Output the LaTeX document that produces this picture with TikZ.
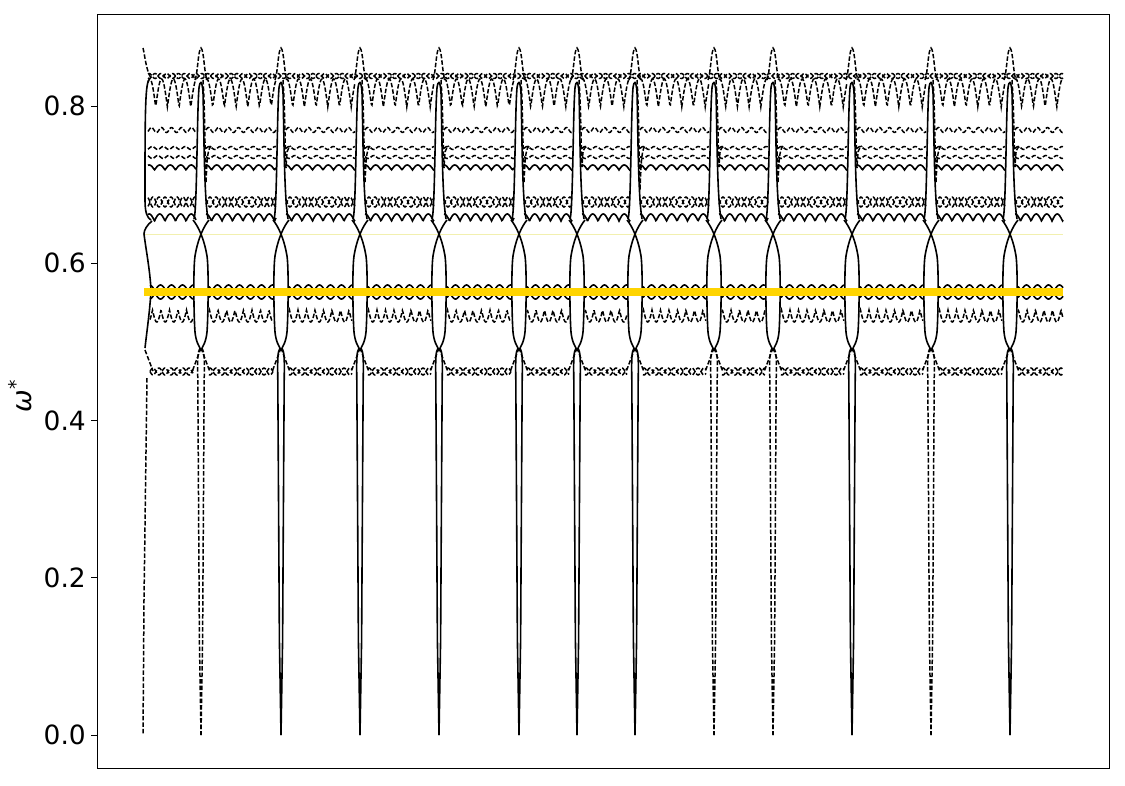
\documentclass[tikz,border=0pt]{standalone}
\usepackage{fontspec}
\setmainfont{DejaVu Sans}
\definecolor{goldy}{RGB}{255,212,0}
\definecolor{paleyel}{RGB}{242,240,175}
\newcommand\myspike[3]{%
  \ifnum#2=1 \tikzset{botline/.style={sl}}\else\tikzset{botline/.style={dl}}\fi
  % dashed peak at the top
  \draw[dl] ({#1-6},80) .. controls ({#1-3},72) and ({#1-3},50) .. (#1,48) .. controls ({#1+3},50) and ({#1+3},72) .. ({#1+6},80);
  % narrow solid loop
  \draw[sl] ({#1-7},219) .. controls ({#1-4},212) and ({#1-4},110) .. ({#1-2},88) .. controls ({#1-1},80) and ({#1+1},80) .. ({#1+2},92) .. controls ({#1+3},130) and ({#1+3},195) .. ({#1+7},219);
  % dashed V going down
  \draw[dl] ({#1+2},80) .. controls ({#1+4},110) and ({#1+4},{#3-20}) .. ({#1+5},#3) .. controls ({#1+6},{#3-20}) and ({#1+6},150) .. ({#1+10},146);
  % crossing and lower solid pair
  \draw[sl] ({#1-8},220) .. controls ({#1-3},226) and ({#1+3},238) .. ({#1+6},256) .. controls ({#1+8},270) and ({#1+7},320) .. ({#1+6},332) .. controls ({#1+5},342) and ({#1+2},346) .. ({#1+1},348);
  \draw[sl] ({#1+8},220) .. controls ({#1+3},226) and ({#1-3},238) .. ({#1-6},256) .. controls ({#1-8},270) and ({#1-7},320) .. ({#1-6},332) .. controls ({#1-5},342) and ({#1-2},346) .. ({#1-1},348);
  % dashed diamond
  \draw[dl] (#1,348) -- ({#1-9},372);
  \draw[dl] (#1,348) -- ({#1+9},372);
  % lower pair down to zero
  \draw[botline] ({#1-1},348) .. controls ({#1-3.5},352) and ({#1-3.5},360) .. ({#1-3.2},380) -- ({#1-1.6},640) -- (#1,735);
  \draw[botline] ({#1+1},348) .. controls ({#1+3.5},352) and ({#1+3.5},360) .. ({#1+3.2},380) -- ({#1+1.6},640) -- (#1,735);
}
\begin{document}
\begin{tikzpicture}[x=1pt,y=-1pt,
  dl/.style={black,line width=1.5pt,dash pattern=on 4.5pt off 2pt},
  sl/.style={black,line width=1.6pt},
  ticklab/.style={font=\fontsize{26.5}{30}\selectfont,anchor=east,inner sep=0pt},
  tickmark/.style={black,line width=1pt}]
\useasboundingbox (0,0) rectangle (1125,785);
% axes frame
\draw[black,line width=1pt] (97,14.5) rectangle (1109,768.5);
% y ticks
\foreach \v/\yy in {0.0/735,0.2/577.75,0.4/420.5,0.6/263.25,0.8/106}{
  \draw[tickmark] (91,\yy) -- (97,\yy);
  \node[ticklab] (t\yy) at (86,\yy) {\v};
}
\node[rotate=90,font=\fontsize{27}{30}\selectfont,inner sep=0pt] (ylab) at (20,396) {\itshape ω\textsuperscript{*}};
% thin yellow line
\draw[paleyel,line width=0.8pt] (144,234.5) -- (1063,234.5);
% top cluster (continuous)
\draw[dl] plot[domain=148:1063,samples=1400] (\x,{76+2.5*sin(mod(\x,11.7)/11.7*360)});
\draw[dl] plot[domain=148:1063,samples=1400] (\x,{76-2.5*sin(mod(\x,11.7)/11.7*360)});
% bands in each segment
\foreach \p/\q in {144/201,201/281,281/360,360/439,439/519,519/577,577/635,635/714,714/773,773/852,852/931,931/1010,1010/1063}{
  \pgfmathsetmacro\aa{ifthenelse(\p<150,148,\p+5)}
  \pgfmathsetmacro\bb{ifthenelse(\q>1060,1063,\q-5)}
  \pgfmathsetmacro\cc{ifthenelse(\p<150,150,\p+8)}
  \pgfmathsetmacro\dd{ifthenelse(\q>1060,1063,\q-8)}
  \draw[dl] plot[domain=\aa:\bb,samples=110] (\x,{107-28*abs(sin((\x-\p)/11.7*180))});
  \draw[dl] plot[domain=\aa:\bb,samples=90] (\x,{130+2.5*sin((\x-\p)/10*360)});
  \draw[dl] plot[domain=\aa:\bb,samples=90] (\x,{148+1.5*sin((\x-\p)/11*360)});
  \draw[dl] plot[domain=\aa:\bb,samples=90] (\x,{157-1.5*sin((\x-\p)/11*360)});
  \draw[sl] plot[domain=\aa:\bb,samples=110] (\x,{170-5*abs(sin((\x-\p)/10.5*180))});
  \draw[dl] plot[domain=\aa:\bb,samples=90] (\x,{202+5*sin((\x-\p)/12*360)});
  \draw[dl] plot[domain=\aa:\bb,samples=90] (\x,{202-5*sin((\x-\p)/12*360)});
  \draw[sl] plot[domain=\aa:\bb,samples=110] (\x,{221-7*abs(sin((\x-\p)/10.5*180))});
  \draw[sl] plot[domain=\cc:\dd,samples=110] (\x,{291-6*abs(sin((\x-\p)/11*180))});
  \draw[sl] plot[domain=\cc:\dd,samples=110] (\x,{293+6*abs(sin((\x-\p)/11*180))});
  \draw[dl] plot[domain=\cc:\dd,samples=120] (\x,{310+12*abs(sin((\x-\p)/8.5*180))});
  \draw[dl] plot[domain=\cc:\dd,samples=90] (\x,{371.5+3.5*sin((\x-\p)/12*360)});
  \draw[dl] plot[domain=\cc:\dd,samples=90] (\x,{371.5-3.5*sin((\x-\p)/12*360)});
}
% spikes
\foreach \s/\st/\tp in {201/0/183,281/1/168,360/1/183,439/1/168,519/1/183,577/1/167,635/1/190,714/0/167,773/0/183,852/1/168,931/0/183,1010/1/167}{
  \myspike{\s}{\st}{\tp}
}
% left edge
\draw[dl] (143,48) .. controls (145,56) and (146,70) .. (151,78);
\draw[sl] (149,80) .. controls (145,84) and (145,120) .. (145,200) .. controls (145,212) and (147,218) .. (151,220);
\draw[sl] (152,221) .. controls (147,225) and (144,230) .. (144,234) .. controls (146,250) and (150,270) .. (151,290) .. controls (150,310) and (147,330) .. (145,348);
\draw[dl] (145,350) -- (153,371);
\draw[dl] (147,378) -- (144,600) -- (143,735);
% thick yellow line
\draw[goldy,line width=8.5pt] (144,292) -- (1063,292);
\end{tikzpicture}
\end{document}
